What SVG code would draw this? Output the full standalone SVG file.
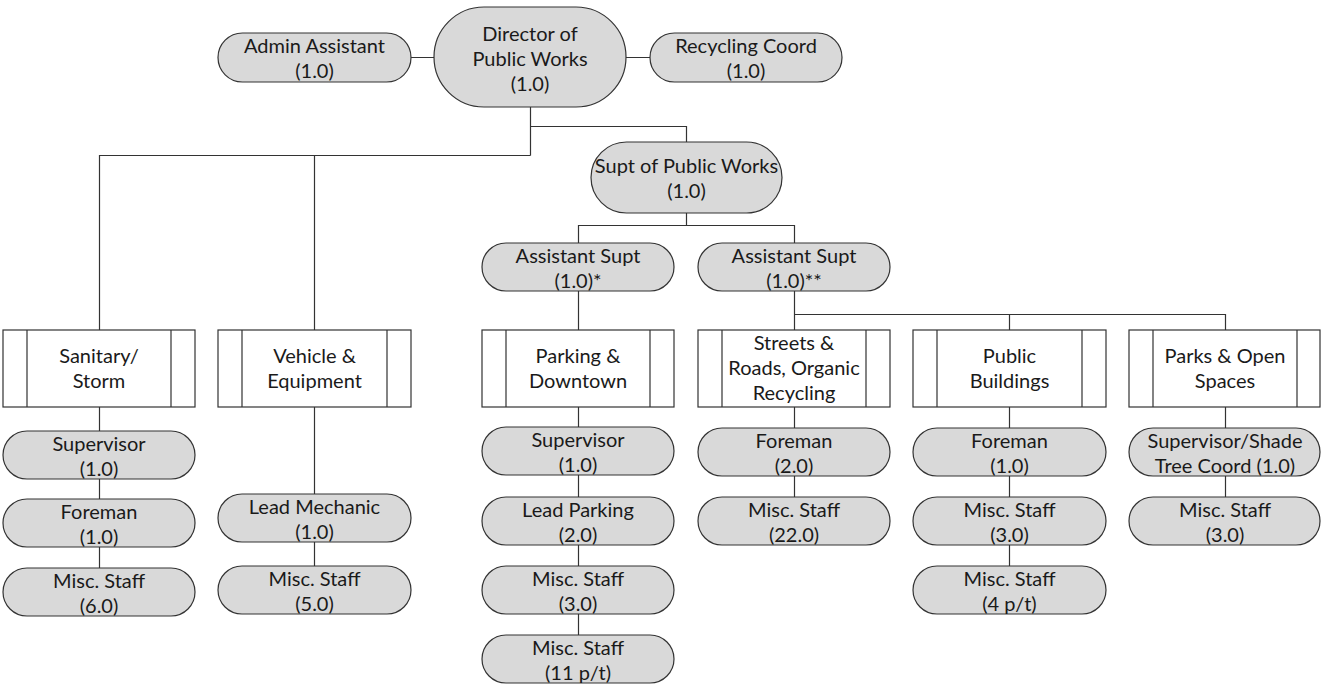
<svg xmlns="http://www.w3.org/2000/svg" width="1321" height="684" viewBox="0 0 1321 684">
  <style>
    .pos { fill: #d9d9d9; stroke: #333333; stroke-width: 1.2; }
    .dept { fill: #ffffff; stroke: #333333; stroke-width: 1.2; }
    .bar { stroke: #333333; stroke-width: 1.2; }
    .wire { fill: none; stroke: #333333; stroke-width: 1.2; }
    text { font-family: Lato, "Liberation Sans", sans-serif; font-size: 20px; fill: #1a1a1a; text-anchor: middle; }
  </style>
  <rect width="1321" height="684" fill="#ffffff"/>

  <!-- connectors -->
  <g id="connectors" class="wire">
    <path d="M411 57.5H434M626 57.5H650"/>
    <path d="M530.5 107V155.5M99.5 330V155.5H530.5M314.5 155.5V330"/>
    <path d="M530.5 126.5H686.5V142"/>
    <path d="M686.5 213V225.5M578.5 243V225.5H794.5V243"/>
    <path d="M578.5 291V330"/>
    <path d="M794.5 291V330M794.5 314.5H1225.5V330M1009.5 314.5V330"/>
    <path d="M99.5 407V431M99.5 479V499M99.5 547V568"/>
    <path d="M314.5 407V494M314.5 542V566"/>
    <path d="M578.5 407V427M578.5 475V497M578.5 545V566M578.5 614V635"/>
    <path d="M794.5 407V428M794.5 476V497"/>
    <path d="M1009.5 407V428M1009.5 476V497M1009.5 545V566"/>
    <path d="M1225.5 407V428M1225.5 476V497"/>
  </g>

  <!-- top level -->
  <g id="admin-assistant">
    <rect class="pos" x="218" y="33" width="193" height="49" rx="24.5"/>
    <text x="314.5" y="53">Admin Assistant</text>
    <text x="314.5" y="78">(1.0)</text>
  </g>
  <g id="director">
    <rect class="pos" x="434" y="7" width="192" height="100" rx="50"/>
    <text x="530" y="41">Director of</text>
    <text x="530" y="66">Public Works</text>
    <text x="530" y="91">(1.0)</text>
  </g>
  <g id="recycling-coord">
    <rect class="pos" x="650" y="33" width="192" height="49" rx="24.5"/>
    <text x="746" y="53">Recycling Coord</text>
    <text x="746" y="78">(1.0)</text>
  </g>
  <g id="supt">
    <rect class="pos" x="591" y="142" width="191" height="71" rx="35.5"/>
    <text x="686.5" y="173">Supt of Public Works</text>
    <text x="686.5" y="198">(1.0)</text>
  </g>
  <g id="asst-supt-1">
    <rect class="pos" x="482" y="243" width="192" height="48" rx="24"/>
    <text x="578" y="263">Assistant Supt</text>
    <text x="578" y="288">(1.0)*</text>
  </g>
  <g id="asst-supt-2">
    <rect class="pos" x="698" y="243" width="192" height="48" rx="24"/>
    <text x="794" y="263">Assistant Supt</text>
    <text x="794" y="288">(1.0)**</text>
  </g>

  <!-- departments -->
  <g id="dept-sanitary">
    <rect class="dept" x="3" y="330" width="192" height="77"/>
    <path class="bar" d="M27 330V407M171 330V407"/>
    <text x="99" y="363">Sanitary/</text>
    <text x="99" y="388">Storm</text>
  </g>
  <g id="dept-vehicle">
    <rect class="dept" x="218" y="330" width="193" height="77"/>
    <path class="bar" d="M242 330V407M387 330V407"/>
    <text x="314.5" y="363">Vehicle &amp;</text>
    <text x="314.5" y="388">Equipment</text>
  </g>
  <g id="dept-parking">
    <rect class="dept" x="482" y="330" width="192" height="77"/>
    <path class="bar" d="M506 330V407M650 330V407"/>
    <text x="578" y="363">Parking &amp;</text>
    <text x="578" y="388">Downtown</text>
  </g>
  <g id="dept-streets">
    <rect class="dept" x="698" y="330" width="192" height="77"/>
    <path class="bar" d="M722 330V407M866 330V407"/>
    <text x="794" y="350">Streets &amp;</text>
    <text x="794" y="375">Roads, Organic</text>
    <text x="794" y="400">Recycling</text>
  </g>
  <g id="dept-buildings">
    <rect class="dept" x="913" y="330" width="193" height="77"/>
    <path class="bar" d="M937 330V407M1082 330V407"/>
    <text x="1009.5" y="363">Public</text>
    <text x="1009.5" y="388">Buildings</text>
  </g>
  <g id="dept-parks">
    <rect class="dept" x="1129" y="330" width="191" height="77"/>
    <path class="bar" d="M1153 330V407M1297 330V407"/>
    <text x="1225" y="363">Parks &amp; Open</text>
    <text x="1225" y="388">Spaces</text>
  </g>

  <!-- Sanitary/Storm staff -->
  <g id="san-supervisor">
    <rect class="pos" x="3" y="431" width="192" height="48" rx="24"/>
    <text x="99" y="451">Supervisor</text>
    <text x="99" y="476">(1.0)</text>
  </g>
  <g id="san-foreman">
    <rect class="pos" x="3" y="499" width="192" height="48" rx="24"/>
    <text x="99" y="519">Foreman</text>
    <text x="99" y="544">(1.0)</text>
  </g>
  <g id="san-misc">
    <rect class="pos" x="3" y="568" width="192" height="48" rx="24"/>
    <text x="99" y="588">Misc. Staff</text>
    <text x="99" y="613">(6.0)</text>
  </g>

  <!-- Vehicle & Equipment staff -->
  <g id="veh-lead">
    <rect class="pos" x="218" y="494" width="193" height="48" rx="24"/>
    <text x="314.5" y="514">Lead Mechanic</text>
    <text x="314.5" y="539">(1.0)</text>
  </g>
  <g id="veh-misc">
    <rect class="pos" x="218" y="566" width="193" height="48" rx="24"/>
    <text x="314.5" y="586">Misc. Staff</text>
    <text x="314.5" y="611">(5.0)</text>
  </g>

  <!-- Parking & Downtown staff -->
  <g id="park-supervisor">
    <rect class="pos" x="482" y="427" width="192" height="48" rx="24"/>
    <text x="578" y="447">Supervisor</text>
    <text x="578" y="472">(1.0)</text>
  </g>
  <g id="park-lead">
    <rect class="pos" x="482" y="497" width="192" height="48" rx="24"/>
    <text x="578" y="517">Lead Parking</text>
    <text x="578" y="542">(2.0)</text>
  </g>
  <g id="park-misc-1">
    <rect class="pos" x="482" y="566" width="192" height="48" rx="24"/>
    <text x="578" y="586">Misc. Staff</text>
    <text x="578" y="611">(3.0)</text>
  </g>
  <g id="park-misc-2">
    <rect class="pos" x="482" y="635" width="192" height="48" rx="24"/>
    <text x="578" y="655">Misc. Staff</text>
    <text x="578" y="680">(11 p/t)</text>
  </g>

  <!-- Streets & Roads staff -->
  <g id="streets-foreman">
    <rect class="pos" x="698" y="428" width="192" height="48" rx="24"/>
    <text x="794" y="448">Foreman</text>
    <text x="794" y="473">(2.0)</text>
  </g>
  <g id="streets-misc">
    <rect class="pos" x="698" y="497" width="192" height="48" rx="24"/>
    <text x="794" y="517">Misc. Staff</text>
    <text x="794" y="542">(22.0)</text>
  </g>

  <!-- Public Buildings staff -->
  <g id="bldg-foreman">
    <rect class="pos" x="913" y="428" width="193" height="48" rx="24"/>
    <text x="1009.5" y="448">Foreman</text>
    <text x="1009.5" y="473">(1.0)</text>
  </g>
  <g id="bldg-misc-1">
    <rect class="pos" x="913" y="497" width="193" height="48" rx="24"/>
    <text x="1009.5" y="517">Misc. Staff</text>
    <text x="1009.5" y="542">(3.0)</text>
  </g>
  <g id="bldg-misc-2">
    <rect class="pos" x="913" y="566" width="193" height="48" rx="24"/>
    <text x="1009.5" y="586">Misc. Staff</text>
    <text x="1009.5" y="611">(4 p/t)</text>
  </g>

  <!-- Parks & Open Spaces staff -->
  <g id="parks-supervisor">
    <rect class="pos" x="1129" y="428" width="191" height="48" rx="24"/>
    <text x="1225" y="448">Supervisor/Shade</text>
    <text x="1225" y="473">Tree Coord (1.0)</text>
  </g>
  <g id="parks-misc">
    <rect class="pos" x="1129" y="497" width="191" height="48" rx="24"/>
    <text x="1225" y="517">Misc. Staff</text>
    <text x="1225" y="542">(3.0)</text>
  </g>
</svg>
